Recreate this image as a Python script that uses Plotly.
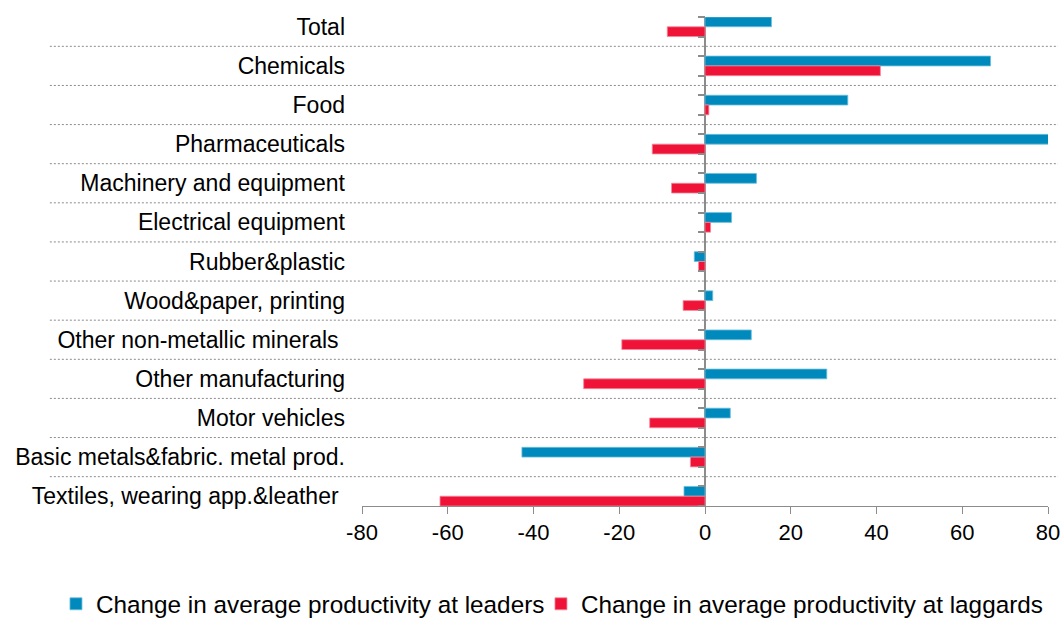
import plotly.graph_objects as go

# Sectors, listed top to bottom
categories = [
    "Total",
    "Chemicals",
    "Food",
    "Pharmaceuticals",
    "Machinery and equipment",
    "Electrical equipment",
    "Rubber&plastic",
    "Wood&paper, printing",
    "Other non-metallic minerals\u00a0",
    "Other manufacturing",
    "Motor vehicles",
    "Basic metals&fabric. metal prod.",
    "Textiles, wearing app.&leather\u00a0",
]

leaders = [15.5, 66.6, 33.3, 80.2, 12.0, 6.2, -2.5, 1.8, 10.8, 28.4, 5.9, -42.7, -4.9]
laggards = [-8.8, 40.9, 0.9, -12.3, -7.8, 1.3, -1.5, -5.1, -19.4, -28.3, -12.9, -3.4, -61.8]

x_ticks = [-80, -60, -40, -20, 0, 20, 40, 60, 80]

series_names = [
    "Change in average productivity at leaders",
    "Change in average productivity at laggards",
]

BLUE = "#0089bc"
RED = "#ef1338"
GREY = "#8c8c8c"
FONT = "Liberation Sans, Arial, sans-serif"

n = len(categories)
y_top, y_bottom = -0.25, n - 1 + 0.25  # bar groups fill half of each slot

fig = go.Figure()
fig.add_trace(go.Bar(
    y=categories, x=leaders, orientation="h", name=series_names[0],
    marker=dict(color=BLUE, line=dict(color="#6cbfdc", width=0.8)),
    legend="legend",
))
fig.add_trace(go.Bar(
    y=categories, x=laggards, orientation="h", name=series_names[1],
    marker=dict(color=RED, line=dict(color="#f5889b", width=0.8)),
    legend="legend2",
))
# empty trace that carries the tick axis drawn along x = 0
fig.add_trace(go.Scatter(
    x=[None], y=[None], yaxis="y2", mode="markers",
    showlegend=False, hoverinfo="skip",
))

# dotted separators between sectors, running into the label area
span = y_bottom - y_top
for i in range(n - 1):
    yp = (y_bottom - (i + 0.5)) / span
    fig.add_shape(
        type="line", xref="paper", yref="paper",
        x0=-0.455, x1=1.0146, y0=yp, y1=yp,
        line=dict(color=GREY, width=1, dash="2px,2px"),
    )

legend_style = dict(
    orientation="h", xanchor="left", y=-0.2004, yanchor="middle",
    bgcolor="rgba(0,0,0,0)",
    font=dict(size=24.3, color="#000000"),
    itemclick=False, itemdoubleclick=False,
)

fig.update_layout(
    width=1061, height=618,
    margin=dict(l=362, r=13, t=17, b=112, autoexpand=False),
    paper_bgcolor="white", plot_bgcolor="white",
    barmode="group", bargap=0.5, bargroupgap=0,
    font=dict(family=FONT, size=22, color="#000000"),
    showlegend=True,
    legend=dict(x=-0.4461, **legend_style),
    legend2=dict(x=0.2609, **legend_style),
    xaxis=dict(
        range=[-80, 80], tickvals=x_ticks, ticktext=[str(v) for v in x_ticks],
        showgrid=False, zeroline=True, zerolinecolor=GREY, zerolinewidth=2,
        showline=True, linecolor=GREY, linewidth=1,
        ticks="outside", ticklen=7, tickcolor=GREY, tickwidth=1,
        tickfont=dict(size=22, color="#000000"),
    ),
    yaxis=dict(
        type="category", categoryorder="array", categoryarray=categories,
        range=[y_bottom, y_top], showgrid=False, zeroline=False,
        showline=False, ticks="", ticklabelstandoff=16,
        tickfont=dict(size=23, color="#000000"),
    ),
    yaxis2=dict(
        overlaying="y", anchor="free", position=0.5, side="left",
        range=[y_bottom, y_top], showgrid=False, zeroline=False,
        showline=False, showticklabels=False,
        tickvals=[i + d for i in range(n) for d in (-0.25, 0.25)],
        ticks="outside", ticklen=7, tickcolor=GREY, tickwidth=1.5,
    ),
)

fig.write_html("out.html")
